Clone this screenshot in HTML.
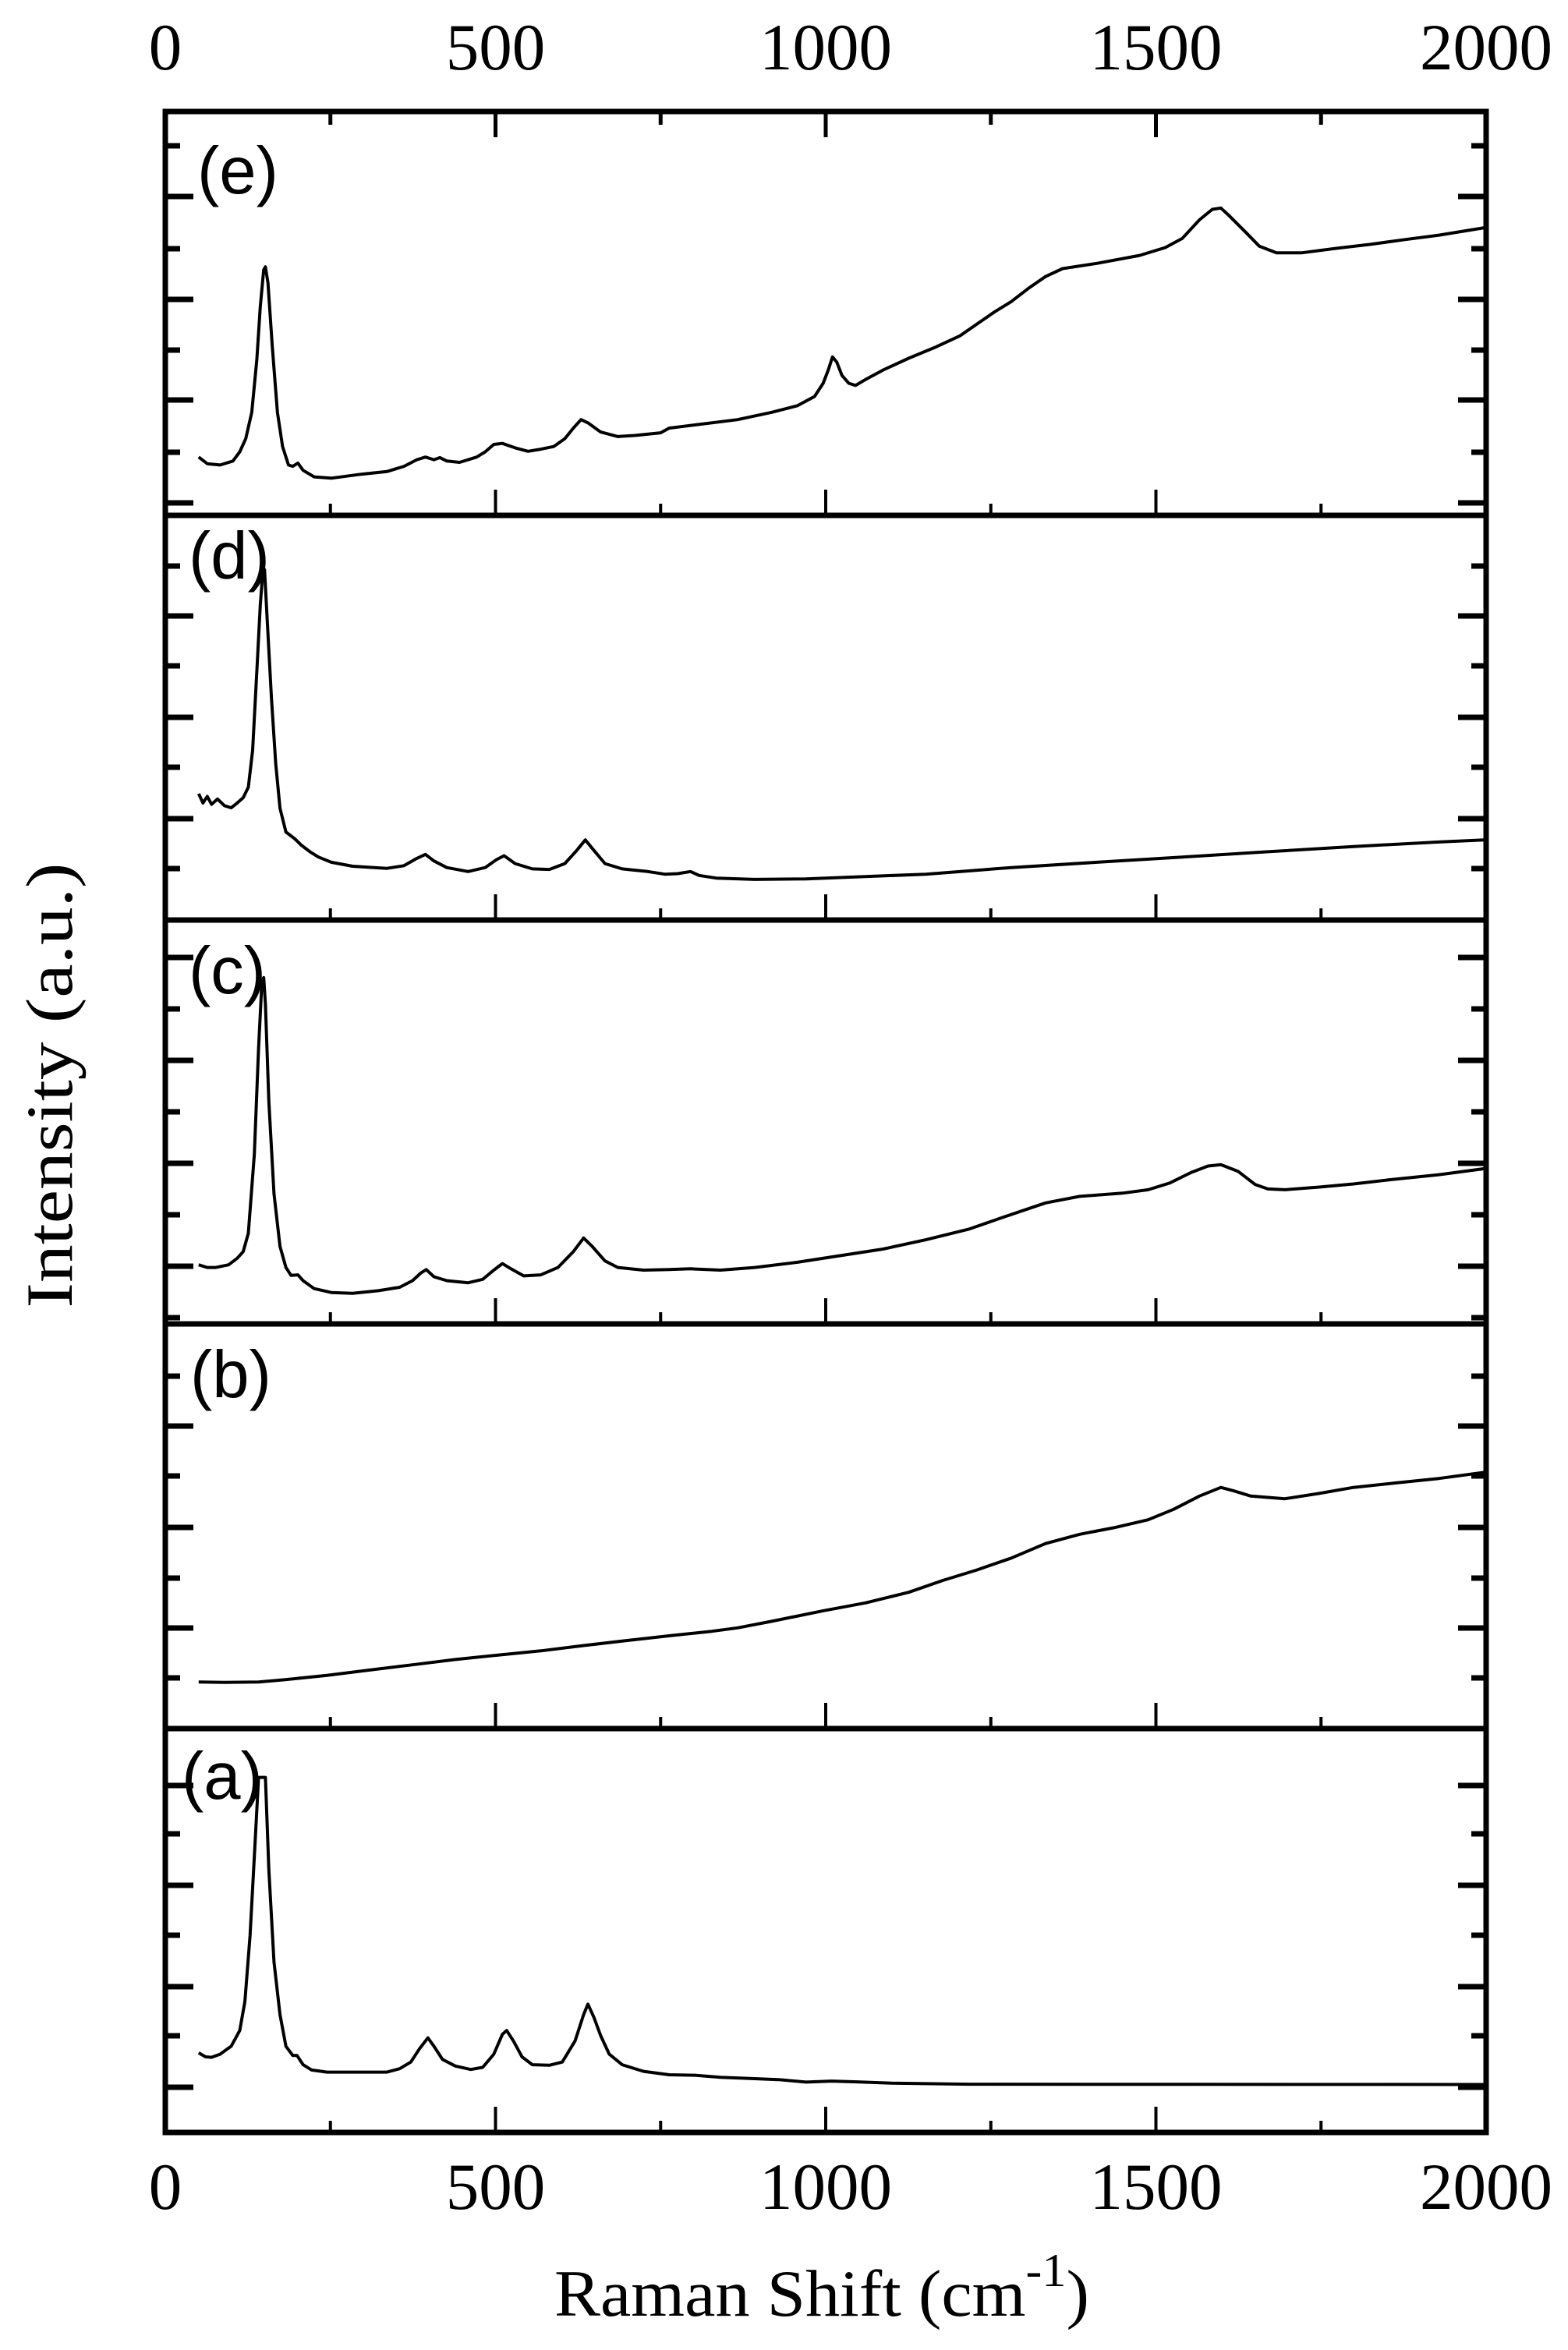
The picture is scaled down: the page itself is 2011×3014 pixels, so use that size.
<!DOCTYPE html>
<html><head><meta charset="utf-8">
<style>html,body{margin:0;padding:0;background:#fff;}svg{display:block;}</style>
</head><body>
<svg id="s" width="2011" height="3014" viewBox="0 0 2011 3014" xmlns="http://www.w3.org/2000/svg">
<rect width="2011" height="3014" fill="#fff"/>
<g id="plot"></g>
<g font-family="Liberation Serif, serif" font-size="85" fill="#000" text-anchor="middle">
<text x="212" y="89">0</text><text x="635.5" y="89">500</text><text x="1059" y="89">1000</text><text x="1482.5" y="89">1500</text><text x="1906" y="89">2000</text>
<text x="212" y="2833">0</text><text x="635.5" y="2833">500</text><text x="1059" y="2833">1000</text><text x="1482.5" y="2833">1500</text><text x="1906" y="2833">2000</text>
<text x="1054" y="2970" textLength="686" lengthAdjust="spacingAndGlyphs">Raman Shift (cm<tspan font-size="60" dy="-38">-1</tspan><tspan dy="38">)</tspan></text>
<text transform="translate(92,1392) rotate(-90)" x="0" y="0" textLength="571" lengthAdjust="spacingAndGlyphs">Intensity (a.u.)</text>
</g>
<g font-family="Liberation Sans, Arial, sans-serif" font-size="85" fill="#000">
<text x="253" y="248">(e)</text>
<text x="242" y="742">(d)</text>
<text x="242" y="1274">(c)</text>
<text x="244" y="1792">(b)</text>
<text x="233" y="2307">(a)</text>
</g>
</svg>
<script>
(function(){
var g=document.getElementById('plot'),NS='http://www.w3.org/2000/svg';
function el(t,a){var e=document.createElementNS(NS,t);for(var k in a)e.setAttribute(k,a[k]);g.appendChild(e);return e;}
var L=212,R=1906,T=143,B=2735,b=[143,661,1180,1698,2217,2735];
function X(v){return L+v*0.847;}
for(var i=0;i<b.length;i++) el('line',{x1:L-3.5,x2:R+3.5,y1:b[i],y2:b[i],stroke:'#000','stroke-width':7});
el('line',{x1:L,x2:L,y1:T,y2:B,stroke:'#000','stroke-width':7});
el('line',{x1:R,x2:R,y1:T,y2:B,stroke:'#000','stroke-width':7});
var yt=[[187,0],[252,1],[319,0],[384,1],[449,0],[513,1],[580,0],[645,1],
[726,0],[790,1],[854,0],[920,1],[984,0],[1050,1],[1114,0],
[1228,1],[1294,0],[1360,1],[1426,0],[1492,1],[1558,0],[1624,1],[1690,0],
[1765,0],[1829,1],[1893,0],[1959,1],[2024,0],[2088,1],[2152,0],
[2290,1],[2352,0],[2418,1],[2482,0],[2548,1],[2611,0],[2677,1]];
yt.forEach(function(t){var len=t[1]?36:19;
el('line',{x1:L,x2:L+len,y1:t[0],y2:t[0],stroke:'#000','stroke-width':7});
el('line',{x1:R,x2:R-len,y1:t[0],y2:t[0],stroke:'#000','stroke-width':7});});
var xs=[250,500,750,1000,1250,1500,1750];
xs.forEach(function(v){var maj=(v%500===0);var len=maj?33:15;
for(var i=1;i<b.length;i++){el('line',{x1:X(v),x2:X(v),y1:b[i],y2:b[i]-len,stroke:'#000','stroke-width':4});}
el('line',{x1:X(v),x2:X(v),y1:T,y2:T+(maj?33:17),stroke:'#000','stroke-width':5});});
var P={
140:[[50,1320],[60,1345],[75,1350],[90,1335],[98,1300],[105,1250],[112,1150],[118,950],[122,750],[126,610],[128,598],[131,660],[136,900],[142,1150],[148,1280],[155,1350],[160,1355],[166,1343],[172,1370],[185,1395],[205,1400],[240,1385],[270,1375],[290,1355],[305,1330],[315,1320],[325,1330],[332,1322],[340,1335],[355,1340],[375,1320],[385,1300],[395,1272],[405,1268],[420,1285],[435,1298],[450,1290],[465,1280],[478,1250],[488,1210],[497,1178],[505,1190],[520,1225],[540,1242],[560,1238],[590,1228],[600,1210],[630,1198],[680,1178],[720,1150],[750,1125],[770,1090],[780,1040],[786,990],[791,940],[796,960],[802,1010],[810,1040],[818,1048],[830,1025],[850,990],[880,945],[910,905],[940,860],[960,815],[980,770],[1000,730],[1020,680],[1040,635],[1060,605],[1100,585],[1150,555],[1180,525],[1200,490],[1220,420],[1235,380],[1245,375],[1255,405],[1275,470],[1290,520],[1310,545],[1340,545],[1380,528],[1420,513],[1460,495],[1500,478],[1553,450]],
658:[[50,1065],[55,1100],[60,1075],[65,1105],[72,1085],[80,1110],[88,1118],[95,1100],[102,1080],[108,1040],[113,900],[118,600],[122,350],[125,220],[127,215],[130,400],[135,700],[140,950],[145,1120],[152,1210],[162,1235],[170,1260],[180,1285],[190,1305],[205,1325],[230,1340],[270,1348],[290,1338],[305,1310],[315,1295],[325,1320],[340,1345],[365,1360],[385,1345],[398,1315],[407,1300],[420,1330],[440,1350],[460,1352],[478,1330],[492,1280],[502,1240],[512,1280],[525,1330],[545,1350],[575,1360],[595,1370],[610,1368],[625,1360],[635,1375],[655,1385],[700,1390],[760,1388],[800,1383],[900,1370],[1000,1345],[1100,1325],[1200,1305],[1300,1285],[1400,1265],[1500,1248],[1553,1240]],
1176:[[50,1320],[60,1330],[70,1330],[85,1320],[95,1295],[102,1270],[108,1200],[115,900],[120,500],[124,240],[126,230],[128,330],[132,700],[138,1050],[145,1250],[152,1330],[158,1360],[166,1358],[172,1380],[185,1410],[205,1425],[230,1428],[260,1418],[285,1405],[300,1380],[310,1350],[316,1338],[325,1365],[340,1380],[365,1388],[382,1375],[395,1340],[405,1315],[415,1335],[430,1362],[450,1358],[470,1330],[488,1270],[500,1218],[510,1250],[525,1305],[540,1330],[570,1340],[600,1338],[625,1335],[660,1340],[700,1330],[750,1310],[790,1290],[850,1260],[900,1225],[950,1185],[990,1140],[1040,1085],[1080,1060],[1130,1048],[1160,1035],[1185,1010],[1210,970],[1230,945],[1245,940],[1265,965],[1285,1015],[1300,1032],[1320,1035],[1360,1025],[1400,1013],[1440,998],[1500,978],[1553,955]],
1694:[[50,1370],[80,1372],[120,1370],[150,1362],[200,1345],[250,1325],[300,1305],[350,1285],[400,1268],[450,1252],[500,1232],[550,1213],[600,1195],[650,1178],[680,1165],[720,1140],[780,1100],[830,1070],[880,1030],[920,985],[960,945],[1000,900],[1040,845],[1080,810],[1120,785],[1160,755],[1190,715],[1220,665],[1245,632],[1260,645],[1280,665],[1320,675],[1360,655],[1400,632],[1450,615],[1500,598],[1553,575]],
2212:[[50,1245],[58,1260],[65,1262],[75,1250],[88,1220],[98,1160],[104,1050],[110,800],[115,500],[120,200],[128,200],[132,550],[138,900],[145,1100],[152,1220],[160,1255],[165,1255],[172,1290],[182,1310],[200,1318],[270,1318],[285,1305],[298,1280],[308,1230],[318,1188],[325,1220],[335,1270],[350,1295],[368,1308],[382,1300],[395,1250],[405,1175],[410,1160],[418,1200],[428,1260],[440,1290],[460,1292],[475,1280],[490,1200],[500,1100],[505,1060],[512,1110],[520,1180],[530,1250],[545,1290],[570,1315],[600,1328],[630,1330],[660,1338],[700,1343],[730,1347],[760,1356],[790,1352],[820,1355],[860,1360],[950,1364],[1553,1365]]};
for(var k in P){var y0=+k,pts=P[k],d='';
pts.forEach(function(p,i){var x=200+p[0]*1.097,y=y0+p[1]/2.958;d+=(i?'L':'M')+x.toFixed(1)+' '+y.toFixed(1);});
el('path',{d:d,fill:'none',stroke:'#000','stroke-width':4,'stroke-linejoin':'round'});}
})();
</script>
</body></html>
